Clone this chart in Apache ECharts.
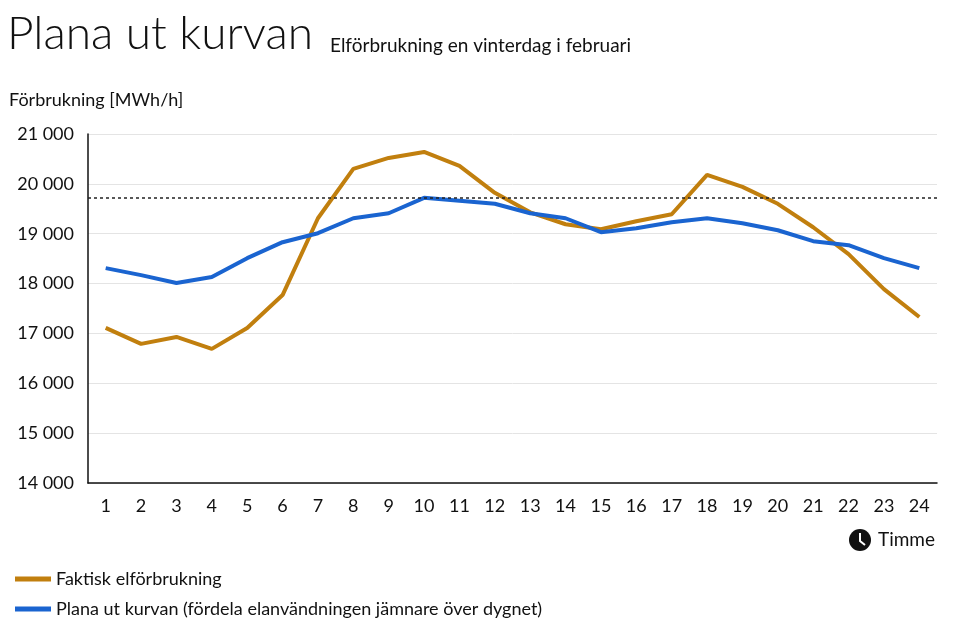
<!DOCTYPE html>
<html><head><meta charset="utf-8">
<script src="https://cdn.jsdelivr.net/npm/echarts@6/dist/echarts.min.js"></script>
<style>html,body{margin:0;background:#fff}#c{width:960px;height:640px}</style>
</head><body><div id="c"></div>
<script>
var hours = ['1','2','3','4','5','6','7','8','9','10','11','12','13','14','15','16','17','18','19','20','21','22','23','24'];
var faktisk = [17110,16790,16930,16690,17110,17770,19310,20300,20520,20640,20360,19820,19430,19190,19090,19250,19390,20180,19940,19600,19130,18590,17890,17330];
var plana = [18310,18170,18010,18130,18510,18830,19010,19310,19410,19720,19660,19600,19410,19310,19030,19110,19230,19310,19210,19070,18850,18770,18510,18310];
var snitt = 19720;

var font = 'Lato, "Open Sans", sans-serif';
var chart = echarts.init(document.getElementById('c'));
chart.setOption({
	animation: false,
	textStyle: {fontFamily: font},
	title: [
		{text: 'Plana ut kurvan', left: 2, top: 6, textStyle: {fontSize: 46, fontWeight: 300, color: '#111', fontFamily: font}},
		{text: 'Elförbrukning en vinterdag i februari', left: 325, top: 31, textStyle: {fontSize: 19, fontWeight: 'normal', color: '#111', fontFamily: font}},
		{text: 'Förbrukning [MWh/h]', left: 4, top: 86, textStyle: {fontSize: 18, fontWeight: 'normal', color: '#111', fontFamily: font}}
	],
	grid: {left: 88, right: 23, top: 134, bottom: 157},
	legend: {
		orient: 'vertical', left: 10, top: 565, itemGap: 12,
		itemWidth: 36, itemHeight: 16,
		textStyle: {fontSize: 18, color: '#111'},
		data: [
			{name: 'Faktisk elförbrukning', icon: 'path://M0,0H36V5H0Z'},
			{name: 'Plana ut kurvan (fördela elanvändningen jämnare över dygnet)', icon: 'path://M0,0H36V5H0Z'}
		]
	},
	xAxis: {
		type: 'category', data: hours, boundaryGap: true,
		axisLine: {lineStyle: {color: '#111', width: 1.5}},
		axisTick: {inside: true, length: 7, lineStyle: {color: '#111'}},
		axisLabel: {fontSize: 18, color: '#111', margin: 14}
	},
	yAxis: {
		type: 'value', min: 14000, max: 21000, interval: 1000,
		axisLine: {show: true, lineStyle: {color: '#111', width: 1.5}},
		axisTick: {show: false},
		splitLine: {lineStyle: {color: '#e4e4e4'}},
		axisLabel: {fontSize: 18, color: '#111', margin: 14,
			formatter: function (v) { return String(v).replace(/(\d+)(\d{3})$/, '$1 $2'); }}
	},
	series: [
		{name: 'Faktisk elförbrukning', type: 'line', data: faktisk, symbol: 'none',
			lineStyle: {color: '#c17f0e', width: 4}, itemStyle: {color: '#c17f0e'},
			markLine: {silent: true, symbol: 'none', label: {show: false},
				lineStyle: {color: '#222', type: [3, 3], width: 1.5},
				data: [{yAxis: snitt}]}},
		{name: 'Plana ut kurvan (fördela elanvändningen jämnare över dygnet)', type: 'line', data: plana, symbol: 'none',
			lineStyle: {color: '#1a64d0', width: 4}, itemStyle: {color: '#1a64d0'}}
	],
	graphic: [
		{type: 'circle', shape: {cx: 860, cy: 540, r: 11}, style: {fill: '#111'}},
		{type: 'polyline', shape: {points: [[860, 533], [860, 541], [865, 545]]}, style: {stroke: '#fff', lineWidth: 2, fill: null}},
		{type: 'text', left: 878, top: 530, style: {text: 'Timme', fontSize: 19, fill: '#111', fontFamily: font}}
	]
});
</script></body></html>
